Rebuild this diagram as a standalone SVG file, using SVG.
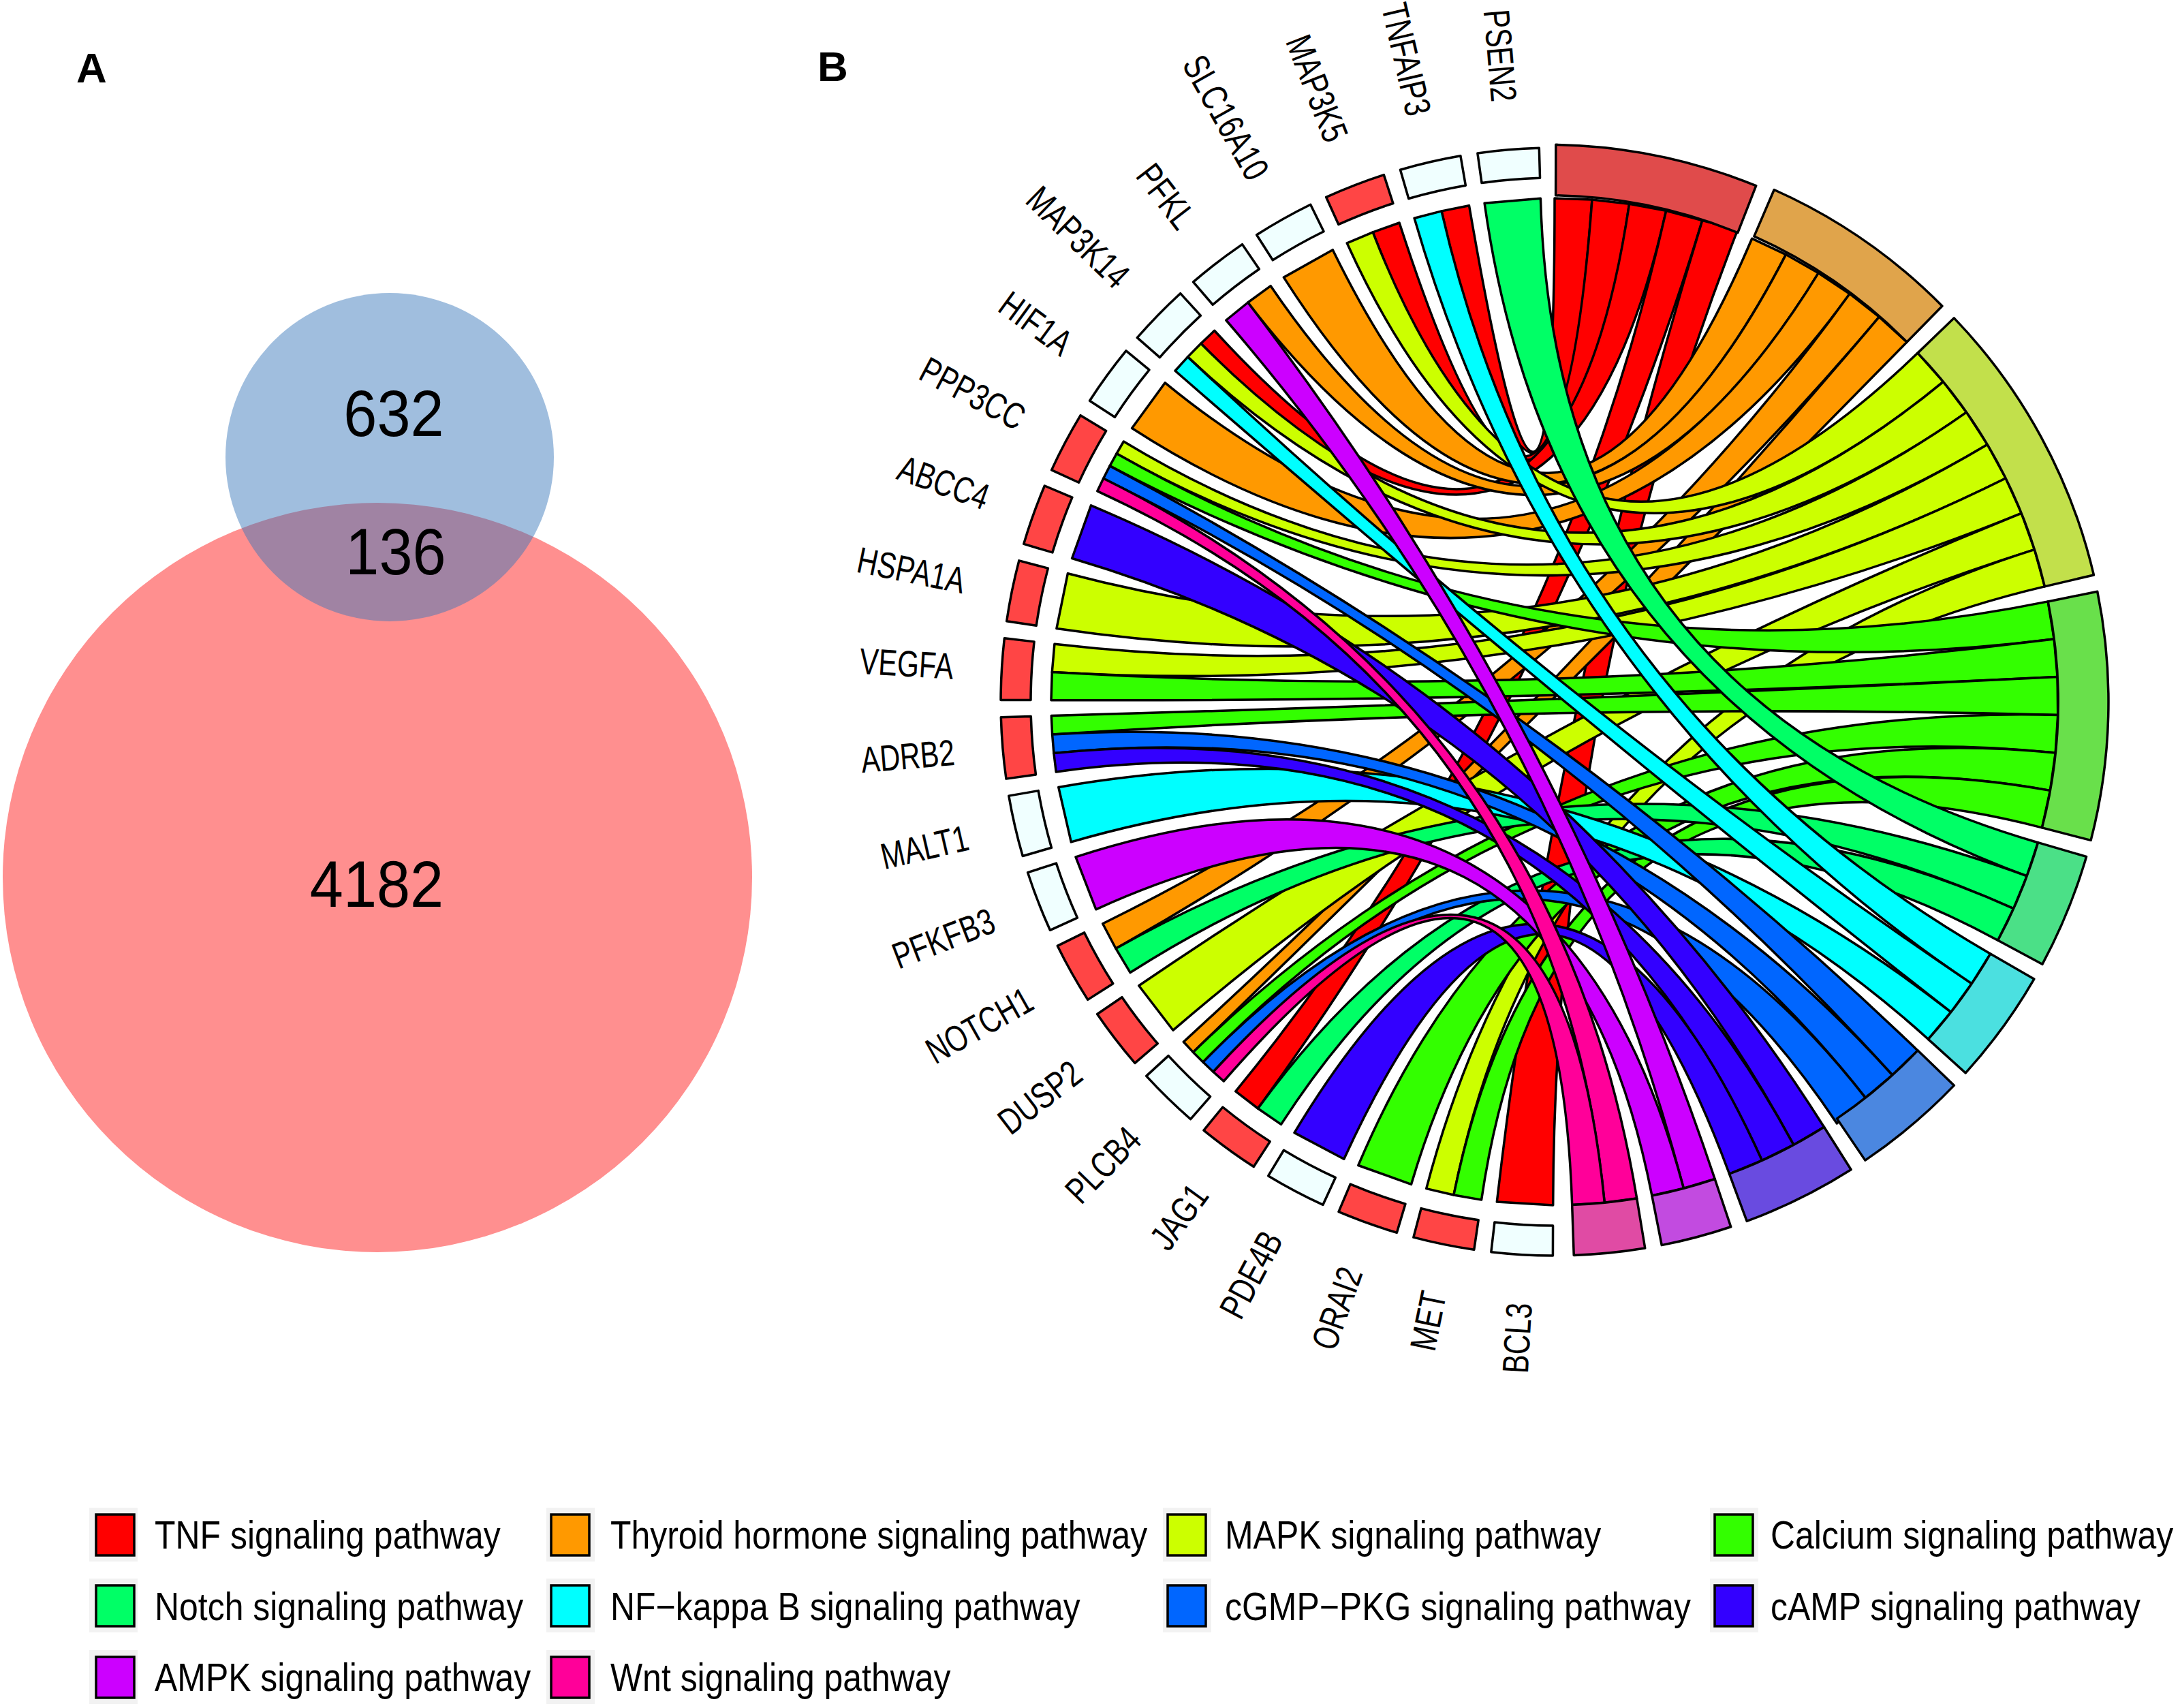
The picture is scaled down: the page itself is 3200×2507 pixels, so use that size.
<svg xmlns="http://www.w3.org/2000/svg" xmlns:xlink="http://www.w3.org/1999/xlink" width="3200" height="2507" viewBox="0 0 3200 2507">
<style>
.rib{stroke:#000;stroke-width:3.5;stroke-linejoin:round}
.box{stroke:#000;stroke-width:3.5;stroke-linejoin:round}
.up{fill:#FF4545}.nc{fill:#F0FFFF}
.lbl{font-family:"Liberation Sans",Arial,sans-serif;font-size:54px;fill:#000}
.leg{font-family:"Liberation Sans",Arial,sans-serif;font-size:57px;fill:#000}
.num{font-family:"Liberation Sans",Arial,sans-serif;font-size:96px;fill:#000}
.pan{font-family:"Liberation Sans",Arial,sans-serif;font-size:62px;font-weight:bold;fill:#000}
.kbg{fill:#F2F2F2}
.key{stroke:#000;stroke-width:3.5}
.tnf{fill:#FF0000}.thy{fill:#FF9900}.mapk{fill:#CCFF00}.cal{fill:#33FF00}.notch{fill:#00FF66}
.nfkb{fill:#00FFFF}.cgmp{fill:#0066FF}.camp{fill:#3300FF}.ampk{fill:#CC00FF}.wnt{fill:#FF0099}
</style>
<defs>
<path id="gbox" d="M813,0 A813,813 0 0 0 807.9,-90.6 L764.2,-85.7 A769,769 0 0 1 769,0 Z"/>
<path id="b21" d="M813,0 A813,813 0 0 0 762.3,-295.7 L692.9,-268.8 A739,739 0 0 1 739,0 Z"/>
<path id="b30" d="M813,0 A813,813 0 0 0 699.7,-414.0 L636.0,-376.3 A739,739 0 0 1 739,0 Z"/>
<path id="b26" d="M813,0 A813,813 0 0 0 730.9,-356.0 L664.4,-323.6 A739,739 0 0 1 739,0 Z"/>
<path id="b12" d="M813,0 A813,813 0 0 0 795.1,-169.7 L722.7,-154.3 A739,739 0 0 1 739,0 Z"/>
<path id="b7" d="M813,0 A813,813 0 0 0 806.2,-104.8 L732.8,-95.3 A739,739 0 0 1 739,0 Z"/>
</defs>
<rect width="3200" height="2507" fill="#FFFFFF"/>

<g id="panel-A">
<text class="pan" x="112" y="121">A</text>
<circle id="set-large" cx="554" cy="1288" r="550" fill="#FF8F8F"/>
<circle id="set-small" cx="572" cy="671" r="241" fill="rgb(54,118,185)" fill-opacity="0.473"/>
<text class="num" text-anchor="middle" transform="translate(578,640) scale(0.92,1)">632</text>
<text class="num" text-anchor="middle" transform="translate(581,843) scale(0.92,1)">136</text>
<text class="num" text-anchor="middle" transform="translate(553,1331) scale(0.92,1)">4182</text>
</g>

<text class="pan" x="1200" y="119">B</text>

<g id="chord" transform="translate(2282,1030)">
<g id="connectors">
<path class="rib tnf" d="M-125.5,-728.2 Q0,0 0,-739 L55.0,-736.9 Q0,0 -166.0,-720.1 Z"/>
<path class="rib tnf" d="M-227.9,-703.0 Q0,0 55.0,-736.9 L109.6,-730.8 Q0,0 -266.8,-689.2 Z"/>
<path class="rib tnf" d="M-499.3,-544.7 Q0,0 109.6,-730.8 L163.7,-720.6 Q0,0 -519.2,-525.8 Z"/>
<path class="rib tnf" d="M-468.2,571.8 Q0,0 163.7,-720.6 L216.8,-706.5 Q0,0 -435.5,597.0 Z"/>
<path class="rib tnf" d="M-84.7,734.1 Q0,0 216.8,-706.5 L268.8,-692.9 Q0,0 -2.3,739.0 Z"/>
<path class="rib thy" d="M-325.7,-663.3 Q0,0 289.7,-679.8 L339.5,-656.4 Q0,0 -397.6,-622.9 Z"/>
<path class="rib thy" d="M-416.8,-610.3 Q0,0 339.5,-656.4 L387.3,-629.3 Q0,0 -450.2,-586.0 Z"/>
<path class="rib thy" d="M-571.8,-468.2 Q0,0 387.3,-629.3 L433.1,-598.8 Q0,0 -620.4,-401.5 Z"/>
<path class="rib thy" d="M-663.3,325.7 Q0,0 433.1,-598.8 L476.4,-564.9 Q0,0 -644.1,362.2 Z"/>
<path class="rib thy" d="M-544.7,499.3 Q0,0 476.4,-564.9 L517.1,-527.9 Q0,0 -530.6,514.4 Z"/>
<path class="rib mapk" d="M-266.8,-689.2 Q0,0 533.0,-511.9 L570.5,-469.7 Q0,0 -304.8,-673.2 Z"/>
<path class="rib mapk" d="M-519.2,-525.8 Q0,0 570.5,-469.7 L604.6,-424.9 Q0,0 -538.5,-506.1 Z"/>
<path class="rib mapk" d="M-632.6,-382.0 Q0,0 604.6,-424.9 L635.3,-377.5 Q0,0 -643.0,-364.2 Z"/>
<path class="rib mapk" d="M-714.6,-188.3 Q0,0 635.3,-377.5 L662.2,-328.0 Q0,0 -731.1,-107.4 Z"/>
<path class="rib mapk" d="M-734.1,-84.7 Q0,0 662.2,-328.0 L685.3,-276.6 Q0,0 -737.7,-43.6 Z"/>
<path class="rib mapk" d="M-610.3,416.8 Q0,0 685.3,-276.6 L704.4,-223.4 Q0,0 -560.0,482.2 Z"/>
<path class="rib mapk" d="M-188.3,714.6 Q0,0 704.4,-223.4 L719.4,-169.1 Q0,0 -148.1,724.0 Z"/>
<path class="rib cal" d="M-643.0,-364.2 Q0,0 724.2,-147.1 L733.2,-92.0 Q0,0 -652.9,-346.1 Z"/>
<path class="rib cal" d="M-737.7,-43.6 Q0,0 733.2,-92.0 L738.1,-36.4 Q0,0 -739.0,-2.3 Z"/>
<path class="rib cal" d="M-738.7,20.6 Q0,0 738.1,-36.4 L738.7,19.5 Q0,0 -737.4,48.1 Z"/>
<path class="rib cal" d="M-530.6,514.4 Q0,0 738.7,19.5 L735.2,75.1 Q0,0 -516.0,529.0 Z"/>
<path class="rib cal" d="M-288.2,680.5 Q0,0 735.2,75.1 L727.4,130.4 Q0,0 -210.5,708.4 Z"/>
<path class="rib cal" d="M-148.1,724.0 Q0,0 727.4,130.4 L715.5,184.9 Q0,0 -107.4,731.1 Z"/>
<path class="rib notch" d="M-20.6,-738.7 Q0,0 709.5,206.7 L693.3,255.9 Q0,0 -102.9,-731.8 Z"/>
<path class="rib notch" d="M-644.1,362.2 Q0,0 693.3,255.9 L673.7,303.7 Q0,0 -622.9,397.6 Z"/>
<path class="rib notch" d="M-435.5,597.0 Q0,0 673.7,303.7 L650.7,350.2 Q0,0 -401.5,620.4 Z"/>
<path class="rib nfkb" d="M-166.0,-720.1 Q0,0 639.7,369.9 L612.2,413.9 Q0,0 -205.9,-709.7 Z"/>
<path class="rib nfkb" d="M-538.5,-506.1 Q0,0 612.2,413.9 L581.8,455.7 Q0,0 -557.0,-485.7 Z"/>
<path class="rib nfkb" d="M-728.2,125.5 Q0,0 581.8,455.7 L548.4,495.3 Q0,0 -709.7,205.9 Z"/>
<path class="rib cgmp" d="M-652.9,-346.1 Q0,0 533.0,511.9 L495.8,548.0 Q0,0 -662.3,-327.8 Z"/>
<path class="rib cgmp" d="M-737.4,48.1 Q0,0 495.8,548.0 L456.3,581.3 Q0,0 -735.1,75.6 Z"/>
<path class="rib cgmp" d="M-516.0,529.0 Q0,0 456.3,581.3 L414.4,619.0 Q0,0 -501.1,543.2 Z"/>
<path class="rib camp" d="M-680.5,-288.2 Q0,0 395.5,624.2 L350.8,650.4 Q0,0 -708.4,-210.5 Z"/>
<path class="rib camp" d="M-735.1,75.6 Q0,0 350.8,650.4 L304.4,673.3 Q0,0 -731.8,102.9 Z"/>
<path class="rib camp" d="M-382.0,632.6 Q0,0 304.4,673.3 L256.5,693.0 Q0,0 -309.2,671.2 Z"/>
<path class="rib ampk" d="M-450.2,-586.0 Q0,0 235.2,700.5 L189.4,714.3 Q0,0 -482.2,-560.0 Z"/>
<path class="rib ampk" d="M-703.0,227.9 Q0,0 189.4,714.3 L142.9,725.0 Q0,0 -673.2,304.8 Z"/>
<path class="rib wnt" d="M-662.3,-327.8 Q0,0 120.7,729.1 L73.3,735.3 Q0,0 -671.2,-309.2 Z"/>
<path class="rib wnt" d="M-501.1,543.2 Q0,0 73.3,735.3 L25.7,738.5 Q0,0 -485.7,557.0 Z"/>
</g>

<g id="pathway-TNF"><use xlink:href="#b21" class="box" fill="#E04B4B" transform="rotate(-68.67)"/></g>
<g id="pathway-Thyroid"><use xlink:href="#b21" class="box" fill="#E0A44B" transform="rotate(-45.59)"/></g>
<g id="pathway-MAPK"><use xlink:href="#b30" class="box" fill="#C2E04B" transform="rotate(-13.23)"/></g>
<g id="pathway-Calcium"><use xlink:href="#b26" class="box" fill="#69E04B" transform="rotate(14.49)"/></g>
<g id="pathway-Notch"><use xlink:href="#b12" class="box" fill="#4BE087" transform="rotate(28.29)"/></g>
<g id="pathway-NFkB"><use xlink:href="#b12" class="box" fill="#4BE0E0" transform="rotate(42.09)"/></g>
<g id="pathway-cGMP"><use xlink:href="#b12" class="box" fill="#4B87E0" transform="rotate(55.89)"/></g>
<g id="pathway-cAMP"><use xlink:href="#b12" class="box" fill="#694BE0" transform="rotate(69.69)"/></g>
<g id="pathway-AMPK"><use xlink:href="#b7" class="box" fill="#C24BE0" transform="rotate(78.85)"/></g>
<g id="pathway-Wnt"><use xlink:href="#b7" class="box" fill="#E04BA4" transform="rotate(88.01)"/></g>

<g id="gene-PSEN2"><use xlink:href="#gbox" class="box nc" transform="rotate(-91.6)"/><text class="lbl" text-anchor="end" dy=".35em" transform="rotate(-94.8) translate(884 0) rotate(180) scale(.765 1)">PSEN2</text></g>
<g id="gene-TNFAIP3"><use xlink:href="#gbox" class="box nc" transform="rotate(-99.78)"/><text class="lbl" text-anchor="end" dy=".35em" transform="rotate(-102.98) translate(884 0) rotate(180) scale(.765 1)">TNFAIP3</text></g>
<g id="gene-MAP3K5"><use xlink:href="#gbox" class="box up" transform="rotate(-107.96)"/><text class="lbl" text-anchor="end" dy=".35em" transform="rotate(-111.16) translate(884 0) rotate(180) scale(.765 1)">MAP3K5</text></g>
<g id="gene-SLC16A10"><use xlink:href="#gbox" class="box nc" transform="rotate(-116.15)"/><text class="lbl" text-anchor="end" dy=".35em" transform="rotate(-119.35) translate(884 0) rotate(180) scale(.765 1)">SLC16A10</text></g>
<g id="gene-PFKL"><use xlink:href="#gbox" class="box nc" transform="rotate(-124.33)"/><text class="lbl" text-anchor="end" dy=".35em" transform="rotate(-127.53) translate(884 0) rotate(180) scale(.765 1)">PFKL</text></g>
<g id="gene-MAP3K14"><use xlink:href="#gbox" class="box nc" transform="rotate(-132.51)"/><text class="lbl" text-anchor="end" dy=".35em" transform="rotate(-135.71) translate(884 0) rotate(180) scale(.765 1)">MAP3K14</text></g>
<g id="gene-HIF1A"><use xlink:href="#gbox" class="box nc" transform="rotate(-140.69)"/><text class="lbl" text-anchor="end" dy=".35em" transform="rotate(-143.89) translate(884 0) rotate(180) scale(.765 1)">HIF1A</text></g>
<g id="gene-PPP3CC"><use xlink:href="#gbox" class="box up" transform="rotate(-148.87)"/><text class="lbl" text-anchor="end" dy=".35em" transform="rotate(-152.07) translate(884 0) rotate(180) scale(.765 1)">PPP3CC</text></g>
<g id="gene-ABCC4"><use xlink:href="#gbox" class="box up" transform="rotate(-157.05)"/><text class="lbl" text-anchor="end" dy=".35em" transform="rotate(-160.25) translate(884 0) rotate(180) scale(.765 1)">ABCC4</text></g>
<g id="gene-HSPA1A"><use xlink:href="#gbox" class="box up" transform="rotate(-165.24)"/><text class="lbl" text-anchor="end" dy=".35em" transform="rotate(-168.44) translate(884 0) rotate(180) scale(.765 1)">HSPA1A</text></g>
<g id="gene-VEGFA"><use xlink:href="#gbox" class="box up" transform="rotate(-173.42)"/><text class="lbl" text-anchor="end" dy=".35em" transform="rotate(-176.62) translate(884 0) rotate(180) scale(.765 1)">VEGFA</text></g>
<g id="gene-ADRB2"><use xlink:href="#gbox" class="box up" transform="rotate(-181.6)"/><text class="lbl" text-anchor="end" dy=".35em" transform="rotate(-184.8) translate(884 0) rotate(180) scale(.765 1)">ADRB2</text></g>
<g id="gene-MALT1"><use xlink:href="#gbox" class="box nc" transform="rotate(-189.78)"/><text class="lbl" text-anchor="end" dy=".35em" transform="rotate(-192.98) translate(884 0) rotate(180) scale(.765 1)">MALT1</text></g>
<g id="gene-PFKFB3"><use xlink:href="#gbox" class="box nc" transform="rotate(-197.96)"/><text class="lbl" text-anchor="end" dy=".35em" transform="rotate(-201.16) translate(884 0) rotate(180) scale(.765 1)">PFKFB3</text></g>
<g id="gene-NOTCH1"><use xlink:href="#gbox" class="box up" transform="rotate(-206.15)"/><text class="lbl" text-anchor="end" dy=".35em" transform="rotate(-209.35) translate(884 0) rotate(180) scale(.765 1)">NOTCH1</text></g>
<g id="gene-DUSP2"><use xlink:href="#gbox" class="box up" transform="rotate(-214.33)"/><text class="lbl" text-anchor="end" dy=".35em" transform="rotate(-217.53) translate(884 0) rotate(180) scale(.765 1)">DUSP2</text></g>
<g id="gene-PLCB4"><use xlink:href="#gbox" class="box nc" transform="rotate(-222.51)"/><text class="lbl" text-anchor="end" dy=".35em" transform="rotate(-225.71) translate(884 0) rotate(180) scale(.765 1)">PLCB4</text></g>
<g id="gene-JAG1"><use xlink:href="#gbox" class="box up" transform="rotate(-230.69)"/><text class="lbl" text-anchor="end" dy=".35em" transform="rotate(-233.89) translate(884 0) rotate(180) scale(.765 1)">JAG1</text></g>
<g id="gene-PDE4B"><use xlink:href="#gbox" class="box nc" transform="rotate(-238.87)"/><text class="lbl" text-anchor="end" dy=".35em" transform="rotate(-242.07) translate(884 0) rotate(180) scale(.765 1)">PDE4B</text></g>
<g id="gene-ORAI2"><use xlink:href="#gbox" class="box up" transform="rotate(-247.05)"/><text class="lbl" text-anchor="end" dy=".35em" transform="rotate(-250.25) translate(884 0) rotate(180) scale(.765 1)">ORAI2</text></g>
<g id="gene-MET"><use xlink:href="#gbox" class="box up" transform="rotate(-255.24)"/><text class="lbl" text-anchor="end" dy=".35em" transform="rotate(-258.44) translate(884 0) rotate(180) scale(.765 1)">MET</text></g>
<g id="gene-BCL3"><use xlink:href="#gbox" class="box nc" transform="rotate(-263.42)"/><text class="lbl" text-anchor="end" dy=".35em" transform="rotate(-266.62) translate(884 0) rotate(180) scale(.765 1)">BCL3</text></g>
</g>

<g id="legend">
<rect class="kbg" x="131" y="2213" width="71" height="79"/><rect class="key tnf" x="141" y="2223" width="56" height="60"/>
<text class="leg" transform="translate(227,2273) scale(0.876,1)">TNF signaling pathway</text>
<rect class="kbg" x="802" y="2213" width="71" height="79"/><rect class="key thy" x="809" y="2223" width="56" height="60"/>
<text class="leg" transform="translate(896,2273) scale(0.876,1)">Thyroid hormone signaling pathway</text>
<rect class="kbg" x="1707" y="2213" width="71" height="79"/><rect class="key mapk" x="1714" y="2223" width="56" height="60"/>
<text class="leg" transform="translate(1798,2273) scale(0.876,1)">MAPK signaling pathway</text>
<rect class="kbg" x="2510" y="2213" width="71" height="79"/><rect class="key cal" x="2517" y="2223" width="56" height="60"/>
<text class="leg" transform="translate(2599,2273) scale(0.876,1)">Calcium signaling pathway</text>

<rect class="kbg" x="131" y="2317" width="71" height="79"/><rect class="key notch" x="141" y="2327" width="56" height="60"/>
<text class="leg" transform="translate(227,2378) scale(0.876,1)">Notch signaling pathway</text>
<rect class="kbg" x="802" y="2317" width="71" height="79"/><rect class="key nfkb" x="809" y="2327" width="56" height="60"/>
<text class="leg" transform="translate(896,2378) scale(0.876,1)">NF−kappa B signaling pathway</text>
<rect class="kbg" x="1707" y="2317" width="71" height="79"/><rect class="key cgmp" x="1714" y="2327" width="56" height="60"/>
<text class="leg" transform="translate(1798,2378) scale(0.876,1)">cGMP−PKG signaling pathway</text>
<rect class="kbg" x="2510" y="2317" width="71" height="79"/><rect class="key camp" x="2517" y="2327" width="56" height="60"/>
<text class="leg" transform="translate(2599,2378) scale(0.876,1)">cAMP signaling pathway</text>

<rect class="kbg" x="131" y="2422" width="71" height="79"/><rect class="key ampk" x="141" y="2432" width="56" height="60"/>
<text class="leg" transform="translate(227,2482) scale(0.876,1)">AMPK signaling pathway</text>
<rect class="kbg" x="802" y="2422" width="71" height="79"/><rect class="key wnt" x="809" y="2432" width="56" height="60"/>
<text class="leg" transform="translate(896,2482) scale(0.876,1)">Wnt signaling pathway</text>
</g>
</svg>
